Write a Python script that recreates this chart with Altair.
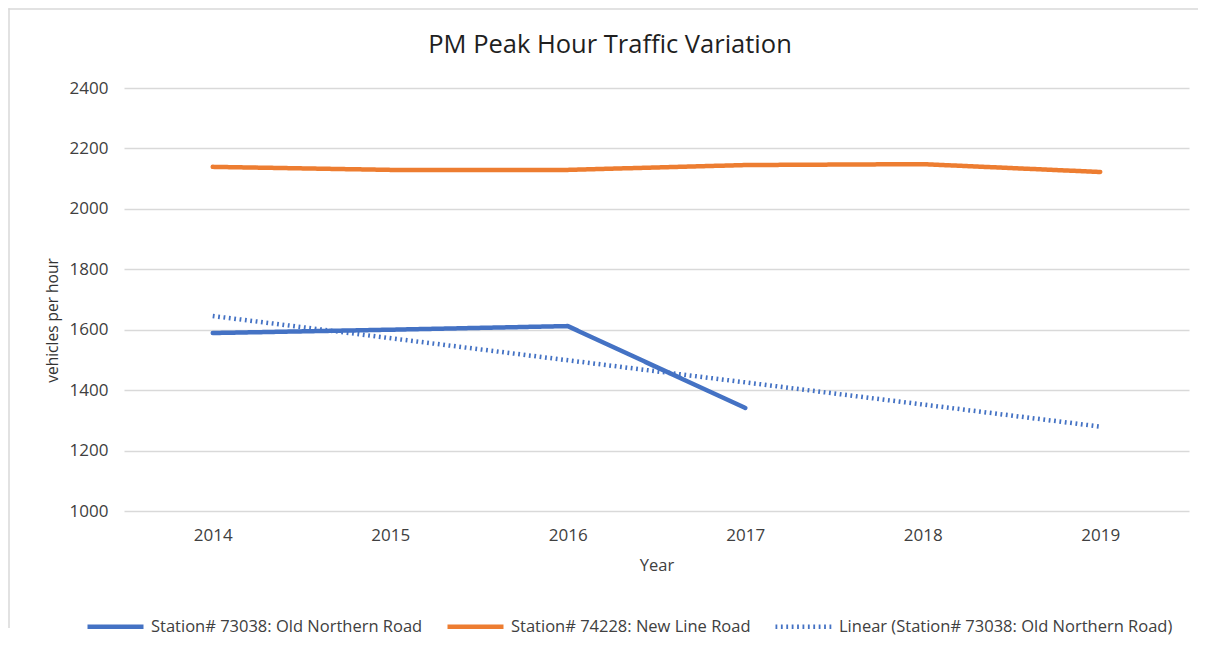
import altair as alt
import pandas as pd

years = [2014, 2015, 2016, 2017, 2018, 2019]
old_northern = [1589, 1600, 1612, 1341, None, None]
new_line = [2139, 2129, 2129, 2145, 2148, 2122]

title_text = "PM Peak Hour Traffic Variation"
s1 = "Station# 73038: Old Northern Road"
s2 = "Station# 74228: New Line Road"
s3 = "Linear (Station# 73038: Old Northern Road)"
series_names = [s1, s2, s3]
series_colors = ["#4472C4", "#ED7D31", "#4472C4"]
series_dash = [[1.8, 0], [1.8, 0], [1.8, 3.6]]
series_width = [4.5, 4.5, 2.2]

rows = []
for y, v in zip(years, old_northern):
    if v is not None:
        rows.append({"year": y, "value": v, "series": s1})
for y, v in zip(years, new_line):
    rows.append({"year": y, "value": v, "series": s2})
df = pd.DataFrame(rows)

FONT = "Open Sans"
TXT = "#404040"

color = alt.Color("series:N", scale=alt.Scale(domain=series_names, range=series_colors),
                  legend=alt.Legend(title=None, orient="none", direction="horizontal",
                                    legendX=-39, legendY=508, symbolType="stroke",
                                    symbolSize=3136, labelFont=FONT, labelFontSize=16.5,
                                    labelColor=TXT, columnPadding=15, labelOffset=5,
                                    labelLimit=0, symbolStrokeWidth=4.5))
dash = alt.StrokeDash("series:N", scale=alt.Scale(domain=series_names, range=series_dash), legend=None)
width = alt.StrokeWidth("series:N", scale=alt.Scale(domain=series_names, range=series_width), legend=None)

x = alt.X("year:Q",
          scale=alt.Scale(domain=[2013.5, 2019.5], nice=False, zero=False),
          axis=alt.Axis(values=years, format="d", grid=False, ticks=False, domain=False,
                        labelFont=FONT, labelFontSize=17, labelColor=TXT, labelPadding=16,
                        title="Year", titleFont=FONT, titleFontSize=16.5, titleFontWeight="normal",
                        titleColor=TXT, titlePadding=14))
y = alt.Y("value:Q",
          scale=alt.Scale(domain=[1000, 2400], nice=False, zero=False),
          axis=alt.Axis(values=list(range(1000, 2401, 200)), format="d", grid=True,
                        gridColor="#D9D9D9", gridWidth=1.3, ticks=False, domain=False,
                        labelFont=FONT, labelFontSize=17, labelColor=TXT, labelPadding=16,
                        title="vehicles per hour", titleFont=FONT, titleFontSize=15.5,
                        titleFontWeight="normal", titleColor="#333333", titlePadding=9,
                        titleY=232))

base = alt.Chart(df)
lines = base.mark_line(strokeCap="round", strokeJoin="round").encode(
    x=x, y=y, color=color, strokeDash=dash, strokeWidth=width)

trend = base.transform_filter(alt.datum.series == s1).transform_regression(
    "year", "value", extent=[2014, 2019]
).transform_calculate(series=f"'{s3}'").mark_line().encode(
    x="year:Q", y="value:Q", color=color, strokeDash=dash, strokeWidth=width)

frame_top = alt.Chart(alt.Data(values=[{"part": "top"}])).mark_rect(
    fill="#D9D9D9", strokeWidth=0).encode(
    x=alt.value(-115.75), x2=alt.value(1090), y=alt.value(-79.75), y2=alt.value(-78.25))
frame_left = alt.Chart(alt.Data(values=[{"part": "left"}])).mark_rule(
    stroke="#D9D9D9", strokeWidth=1.5).encode(
    x=alt.value(-115), y=alt.value(-79.75), y2=alt.value(540))
title = alt.Chart(alt.Data(values=[{"part": "title"}])).mark_text(
    font=FONT, fontSize=25.5, color="#1F1F1F", align="center", baseline="middle").encode(
    x=alt.value(486), y=alt.value(-43), text=alt.value(title_text))

chart = alt.layer(frame_left, frame_top, title, trend, lines).properties(
    width=1065, height=423,
    autosize=alt.AutoSizeParams(type="none"),
    padding={"left": 116, "top": 80, "right": 9, "bottom": 128},
).configure_view(stroke=None)

chart.save("out.html", embed_options={"renderer": "svg", "actions": False})
